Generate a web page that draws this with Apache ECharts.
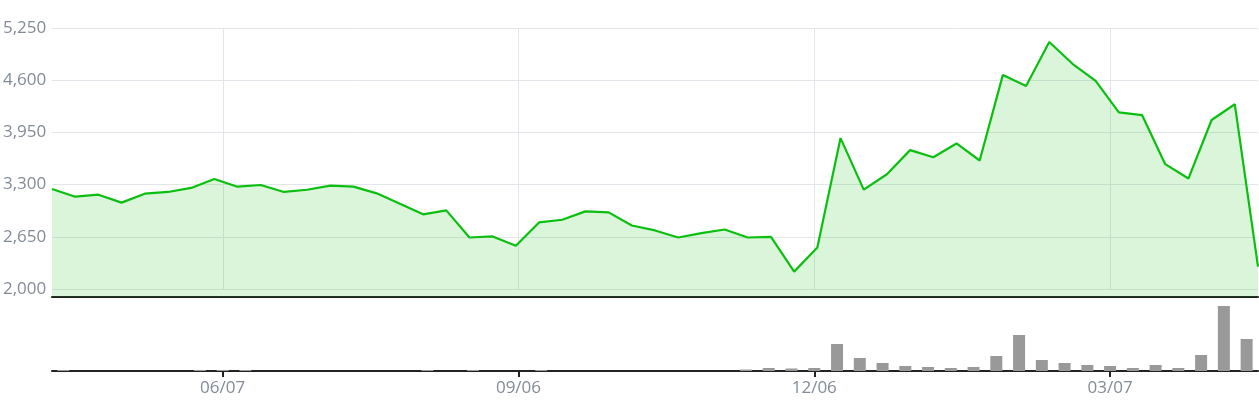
<!DOCTYPE html>
<html>
<head>
<meta charset="utf-8">
<script src="https://cdn.jsdelivr.net/npm/echarts@6/dist/echarts.min.js"></script>
<style>
  html, body { margin: 0; padding: 0; background: #fff; }
  #chart { width: 1259px; height: 400px; }
</style>
</head>
<body>
<div id="chart"></div>
<script>
// weekly dates (MM/DD)
const dates = [
  "04/19", "04/26", "05/03", "05/10", "05/17", "05/24", "05/31", "06/07", "06/14", "06/21",
  "06/28", "07/05", "07/12", "07/19", "07/26", "08/02", "08/09", "08/16", "08/23", "08/30",
  "09/06", "09/13", "09/20", "09/27", "10/04", "10/11", "10/18", "10/25", "11/01", "11/08",
  "11/15", "11/22", "11/29", "12/06", "12/13", "12/20", "12/27", "01/03", "01/10", "01/17",
  "01/24", "01/31", "02/07", "02/14", "02/21", "02/28", "03/07", "03/14", "03/21", "03/28",
  "04/04", "04/11", "04/18"
];

// price line
const price = [
  3245, 3149, 3174, 3075, 3187, 3208, 3258, 3370, 3274, 3295,
  3208, 3236, 3286, 3274, 3191, 3062, 2930, 2979, 2641, 2654,
  2537, 2829, 2862, 2966, 2954, 2791, 2729, 2641, 2696, 2741,
  2641, 2650, 2216, 2516, 3879, 3237, 3429, 3729, 3641, 3812,
  3600, 4666, 4529, 5075, 4804, 4591, 4200, 4166, 3554, 3375,
  4104, 4300, 2279
];

// volume bars (relative)
const volume = [
  1, 0, 0, 0, 0, 0, 1, 1, 1, 0,
  0, 0, 0, 0, 0, 0, 1, 0, 1, 0,
  0, 1, 0, 0, 0, 0, 0, 0, 0, 0,
  1.5, 3, 2.5, 3, 27, 13, 8, 5, 4, 3,
  4, 15, 36, 11, 8, 6, 5, 3, 6, 3,
  16, 65, 32
];

// ticks shown on the bottom axis
const tickIdx = [7, 20, 33, 46];
const yTicks = { min: 2000, max: 5250, step: 650 };

const labelColor = "#838b98";
const gridColor = "#e2e5ea";
const lineColor = "#0bbf10";

var myChart = echarts.init(document.getElementById("chart"), null, { renderer: "canvas" });

const showTick = (idx) => tickIdx.indexOf(idx) >= 0;

const option = {
  animation: false,
  grid: [
    { left: 52, right: 1, top: 28, height: 261 },
    { left: 52, right: 1, top: 28, height: 269 },
    { left: 52, right: 1, top: 300, height: 71 }
  ],
  xAxis: [
    {
      // only for the vertical grid lines
      gridIndex: 0,
      type: "value",
      min: -0.5,
      max: dates.length - 0.5,
      axisLine: { show: false },
      axisTick: { show: false, customValues: tickIdx },
      axisLabel: { show: false },
      splitLine: { show: true, lineStyle: { color: gridColor, width: 1 } }
    },
    {
      gridIndex: 1,
      type: "category",
      data: dates,
      boundaryGap: false,
      axisLine: { show: true, lineStyle: { color: "#222", width: 2 } },
      axisTick: { show: false },
      axisLabel: { show: false },
      splitLine: { show: false }
    },
    {
      gridIndex: 2,
      type: "category",
      data: dates,
      boundaryGap: true,
      axisLine: { show: true, lineStyle: { color: "#222", width: 2 } },
      axisTick: {
        show: true,
        alignWithLabel: true,
        interval: (idx) => showTick(idx),
        length: 6,
        lineStyle: { color: "#222", width: 2 }
      },
      axisLabel: {
        show: true,
        interval: (idx) => showTick(idx),
        color: labelColor,
        fontFamily: "Open Sans",
        fontSize: 17,
        margin: 9
      },
      splitLine: { show: false }
    }
  ],
  yAxis: [
    {
      gridIndex: 0,
      type: "value",
      min: yTicks.min,
      max: yTicks.max,
      interval: yTicks.step,
      axisLine: { show: false },
      axisTick: { show: false },
      axisLabel: {
        color: labelColor,
        fontFamily: "Open Sans",
        fontSize: 17,
        margin: 6,
        formatter: (v) => v.toLocaleString("en-US")
      },
      splitLine: { show: true, lineStyle: { color: gridColor, width: 1 } }
    },
    {
      gridIndex: 1,
      type: "value",
      min: 1900,
      max: yTicks.max,
      show: false
    },
    {
      gridIndex: 2,
      type: "value",
      min: 0,
      max: 71,
      show: false
    }
  ],
  series: [
    {
      type: "line",
      xAxisIndex: 1,
      yAxisIndex: 1,
      data: price,
      symbol: "none",
      lineStyle: { color: lineColor, width: 2.2 },
      itemStyle: { color: lineColor },
      areaStyle: { color: lineColor, opacity: 0.15, origin: "start" },
      z: 3
    },
    {
      type: "bar",
      xAxisIndex: 2,
      yAxisIndex: 2,
      data: volume,
      barWidth: 12,
      itemStyle: { color: "#999999" }
    }
  ]
};
myChart.setOption(option);
</script>
</body>
</html>
